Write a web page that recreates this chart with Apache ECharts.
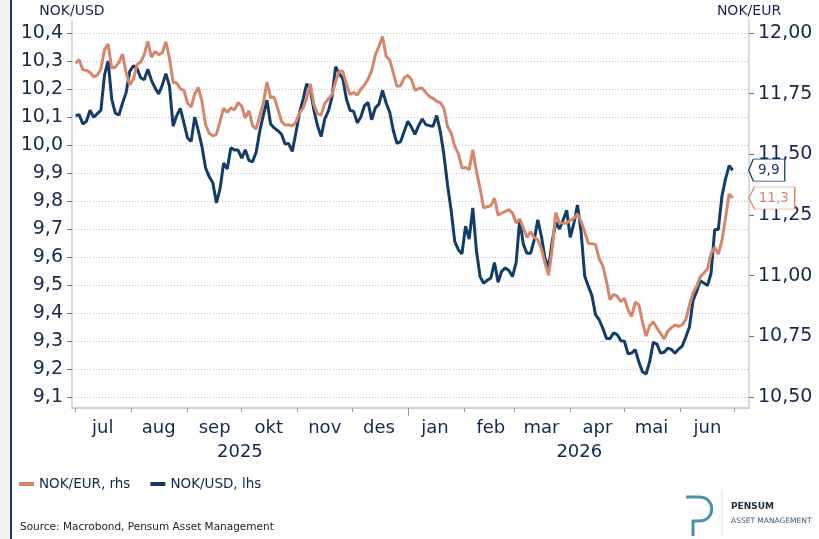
<!DOCTYPE html>
<html>
<head>
<meta charset="utf-8">
<script src="https://cdn.jsdelivr.net/npm/echarts@6/dist/echarts.min.js"></script>
<style>
  html, body { margin: 0; padding: 0; background: #fff; }
  #main { width: 819px; height: 539px; }
</style>
</head>
<body>
<div id="main"></div>
<script>
// axis range (daily categories) and sampling of the two series
const axisStart = '2025-06-29'
const axisEnd = '2026-07-09'
const sampleStart = '2025-07-01'
const sampleStep = 2 // days between readings
const monthNames = ['jan', 'feb', 'mar', 'apr', 'mai', 'jun', 'jul', 'aug', 'sep', 'okt', 'nov', 'des']

// NOK/USD, lhs
const usdValues = [
  10.105, 10.108, 10.075, 10.085, 10.124, 10.099, 10.112, 10.124, 10.25, 10.30,
  10.164, 10.114, 10.107, 10.15, 10.188, 10.263, 10.283, 10.274, 10.24, 10.233,
  10.271, 10.231, 10.204, 10.182, 10.214, 10.255, 10.21, 10.067, 10.105, 10.131,
  10.079, 10.025, 10.013, 10.10, 10.05, 9.994, 9.918, 9.887, 9.865, 9.793,
  9.843, 9.936, 9.914, 9.99, 9.982, 9.982, 9.953, 9.983, 9.945, 9.94,
  9.974, 10.049, 10.107, 10.16, 10.075, 10.061, 10.051, 10.039, 10.004, 10.005, 9.977,
  10.043, 10.114, 10.164, 10.218, 10.2, 10.124, 10.069, 10.03, 10.093, 10.121,
  10.17, 10.28, 10.255, 10.237, 10.164, 10.124, 10.12, 10.079, 10.1, 10.14,
  10.152, 10.09, 10.132, 10.146, 10.195, 10.15, 10.117, 10.051, 10.006, 10.012, 10.048,
  10.085, 10.064, 10.038, 10.069, 10.093, 10.073, 10.069, 10.067, 10.105, 10.049,
  9.965, 9.858, 9.767, 9.656, 9.626, 9.611, 9.71, 9.664, 9.775, 9.624,
  9.531, 9.506, 9.517, 9.525, 9.58, 9.51, 9.549, 9.561, 9.552, 9.53, 9.58,
  9.733, 9.646, 9.613, 9.613, 9.66, 9.733, 9.674, 9.595, 9.563, 9.656,
  9.724, 9.70, 9.731, 9.767, 9.67, 9.721, 9.786, 9.69, 9.531, 9.496,
  9.462, 9.393, 9.376, 9.346, 9.31, 9.308, 9.329, 9.323, 9.301, 9.299, 9.254,
  9.257, 9.269, 9.225, 9.19, 9.182, 9.227, 9.295, 9.289, 9.257, 9.26,
  9.274, 9.27, 9.256, 9.271, 9.282, 9.314, 9.35, 9.445, 9.477, 9.515,
  9.507, 9.498, 9.542, 9.698, 9.698, 9.817, 9.879, 9.926, 9.91
]

// NOK/EUR, rhs
const eurValues = [
  11.876, 11.89, 11.848, 11.846, 11.838, 11.819, 11.826, 11.852, 11.931, 11.955,
  11.856, 11.859, 11.879, 11.913, 11.835, 11.787, 11.81, 11.87, 11.879, 11.911,
  11.966, 11.9, 11.924, 11.911, 11.918, 11.964, 11.897, 11.797, 11.794, 11.77,
  11.764, 11.712, 11.695, 11.75, 11.775, 11.717, 11.622, 11.587, 11.576, 11.582,
  11.636, 11.69, 11.673, 11.692, 11.683, 11.713, 11.698, 11.65, 11.68, 11.618,
  11.604, 11.659, 11.712, 11.798, 11.734, 11.736, 11.687, 11.636, 11.621, 11.622, 11.617,
  11.633, 11.67, 11.69, 11.732, 11.79, 11.705, 11.668, 11.662, 11.71, 11.728,
  11.746, 11.8, 11.842, 11.842, 11.791, 11.747, 11.755, 11.744, 11.768, 11.786,
  11.81, 11.845, 11.909, 11.945, 11.986, 11.904, 11.889, 11.835, 11.78, 11.783, 11.815,
  11.826, 11.808, 11.764, 11.771, 11.773, 11.754, 11.738, 11.731, 11.718, 11.713,
  11.69, 11.615, 11.588, 11.533, 11.503, 11.444, 11.446, 11.437, 11.519, 11.431,
  11.361, 11.28, 11.284, 11.288, 11.32, 11.249, 11.258, 11.265, 11.272, 11.258, 11.217,
  11.234, 11.196, 11.158, 11.181, 11.157, 11.148, 11.111, 11.052, 11.001, 11.113,
  11.26, 11.217, 11.217, 11.216, 11.229, 11.236, 11.255, 11.223, 11.18, 11.133,
  11.132, 11.128, 11.069, 11.041, 10.978, 10.901, 10.923, 10.915, 10.893, 10.907, 10.859,
  10.832, 10.89, 10.88, 10.809, 10.751, 10.794, 10.81, 10.784, 10.762, 10.739,
  10.771, 10.786, 10.797, 10.791, 10.797, 10.819, 10.879, 10.929, 10.956, 10.995,
  11.011, 11.027, 11.091, 11.117, 11.089, 11.144, 11.238, 11.337, 11.32
]

const DAY = 86400000
const navy = '#13294b'
const blue = '#123d69'
const salmon = '#d6866a'
const font = 'DejaVu Sans'

function isoDay(t) {
  return new Date(t).toISOString().slice(0, 10)
}

function buildCategories() {
  let out = []
  for (let t = Date.parse(axisStart); t <= Date.parse(axisEnd); t += DAY) out.push(isoDay(t))
  return out
}

const categories = buildCategories()

function toPairs(values) {
  let t0 = Date.parse(sampleStart)
  return values.map((v, i) => [categories.indexOf(isoDay(t0 + i * sampleStep * DAY)), v])
}

// middle category of every year on the axis, for the year labels
function yearMiddles() {
  let span = {}
  categories.forEach((c, i) => {
    let y = c.slice(0, 4)
    if (!span[y]) span[y] = [i, i]
    span[y][1] = i
  })
  return Object.values(span).map(s => Math.round((s[0] + s[1]) / 2))
}
const yearMid = yearMiddles()

function comma(v, d) {
  return v.toFixed(d).replace('.', ',')
}

const usdData = toPairs(usdValues)
const eurData = toPairs(eurValues)
const usdLast = usdData[usdData.length - 1]
const eurLast = eurData[eurData.length - 1]

function callout(color, last, width) {
  return {
    symbol: 'path://M0,11 L5,0 L40,0 L40,22 L5,22 Z',
    symbolKeepAspect: false,
    symbolSize: [width, 22],
    symbolOffset: [width / 2 + 16, 0],
    itemStyle: { color: '#fff', borderColor: color, borderWidth: 1 },
    label: {
      show: true, color: color, fontFamily: font, fontSize: 13.5, offset: [2, 0],
      formatter: p => comma(p.value, 1)
    },
    data: [{ coord: last, value: last[1] }]
  }
}

var myChart = echarts.init(document.getElementById('main'))
var option = {
  animation: false,
  backgroundColor: '#fff',
  textStyle: { fontFamily: font },
  grid: { left: 72, right: 70, top: 33, bottom: 142, outerBoundsMode: 'none', containLabel: false },
  legend: {
    data: ['NOK/EUR, rhs', 'NOK/USD, lhs'],
    left: 14, top: 472,
    icon: 'rect', itemWidth: 15, itemHeight: 4, itemGap: 20,
    textStyle: { color: navy, fontSize: 13.5, fontFamily: font }
  },
  xAxis: [
    {
      type: 'category',
      position: 'bottom',
      data: categories,
      boundaryGap: false,
      offset: 11,
      axisLine: { lineStyle: { color: '#cfcfcf', width: 2 } },
      axisTick: {
        interval: (i, v) => v.slice(8) === '01',
        length: 4,
        lineStyle: { color: '#9a9a9a' }
      },
      axisLabel: {
        interval: (i, v) => v.slice(8) === '16',
        formatter: v => monthNames[+v.slice(5, 7) - 1],
        color: navy, fontSize: 18, margin: 11
      },
      splitLine: { show: false }
    },
    {
      type: 'category',
      position: 'bottom',
      data: categories,
      boundaryGap: false,
      offset: 11,
      axisLine: { show: false },
      axisTick: {
        interval: (i, v) => v.slice(5) === '01-01',
        length: 8,
        lineStyle: { color: '#9a9a9a' }
      },
      axisLabel: {
        interval: i => yearMid.indexOf(i) >= 0,
        formatter: v => v.slice(0, 4),
        color: navy, fontSize: 18, margin: 35
      },
      splitLine: { show: false }
    }
  ],
  yAxis: [
    {
      type: 'value',
      min: 9.1, max: 10.4, interval: 0.1,
      name: 'NOK/USD',
      nameGap: 15,
      nameTextStyle: { color: navy, fontSize: 14, fontFamily: font },
      axisLine: { show: false },
      axisTick: { show: true, length: 5, lineStyle: { color: '#777' } },
      axisLabel: { color: navy, fontSize: 19, margin: 9, formatter: v => comma(v, 1) },
      splitLine: { lineStyle: { color: '#bdbdbd', type: [1, 2] } }
    },
    {
      type: 'value',
      min: 10.5, max: 12, interval: 0.25,
      name: 'NOK/EUR',
      nameGap: 15,
      nameTextStyle: { color: navy, fontSize: 14, fontFamily: font },
      axisLine: { show: false },
      axisTick: { show: true, length: 5, lineStyle: { color: '#777' } },
      axisLabel: { color: navy, fontSize: 19, margin: 9, formatter: v => comma(v, 2) },
      splitLine: { show: false }
    }
  ],
  series: [
    {
      name: 'NOK/USD, lhs',
      type: 'line',
      yAxisIndex: 0,
      data: usdData,
      symbol: 'none',
      lineStyle: { color: blue, width: 3 },
      itemStyle: { color: blue },
      markPoint: callout(blue, usdLast, 36)
    },
    {
      name: 'NOK/EUR, rhs',
      type: 'line',
      yAxisIndex: 1,
      data: eurData,
      symbol: 'none',
      lineStyle: { color: salmon, width: 3 },
      itemStyle: { color: salmon },
      markPoint: callout(salmon, eurLast, 46)
    }
  ],
  graphic: [
    { type: 'rect', shape: { x: 0, y: 0, width: 10, height: 539 }, style: { fill: '#f2f2f2' }, silent: true },
    { type: 'line', shape: { x1: 11, y1: 0, x2: 11, y2: 539 }, style: { stroke: '#1b3a5c', lineWidth: 2 }, silent: true },
    { type: 'line', shape: { x1: 72, y1: 20, x2: 72, y2: 408 }, style: { stroke: '#cfcfcf', lineWidth: 1.5 }, silent: true },
    { type: 'line', shape: { x1: 749, y1: 20, x2: 749, y2: 408 }, style: { stroke: '#cfcfcf', lineWidth: 1.5 }, silent: true },
    {
      type: 'text', left: 20, top: 522,
      style: { text: 'Source: Macrobond, Pensum Asset Management', fill: '#222', font: '10.5px "DejaVu Sans"' }
    },
    // logo
    {
      type: 'polyline', shape: { points: [[686, 497], [699, 497]] },
      style: { stroke: '#4a93ad', lineWidth: 3, fill: null }, silent: true
    },
    {
      type: 'bezierCurve',
      shape: { x1: 699, y1: 497, cpx1: 716, cpy1: 497, cpx2: 716, cpy2: 521, x2: 699, y2: 521 },
      style: { stroke: '#4a93ad', lineWidth: 3, fill: null }, silent: true
    },
    {
      type: 'polyline', shape: { points: [[699, 521], [693, 521], [693, 536]] },
      style: { stroke: '#4a93ad', lineWidth: 3, fill: null }, silent: true
    },
    { type: 'line', shape: { x1: 722, y1: 490, x2: 722, y2: 537 }, style: { stroke: '#dddddd', lineWidth: 1 }, silent: true },
    {
      type: 'text', left: 731, top: 502,
      style: { text: 'PENSUM', fill: '#1d2e44', font: 'bold 9px "DejaVu Sans"' }
    },
    {
      type: 'text', left: 731, top: 517,
      style: { text: 'ASSET MANAGEMENT', fill: '#3d5a73', font: '7.5px "DejaVu Sans"' }
    }
  ]
}
myChart.setOption(option)
</script>
</body>
</html>
